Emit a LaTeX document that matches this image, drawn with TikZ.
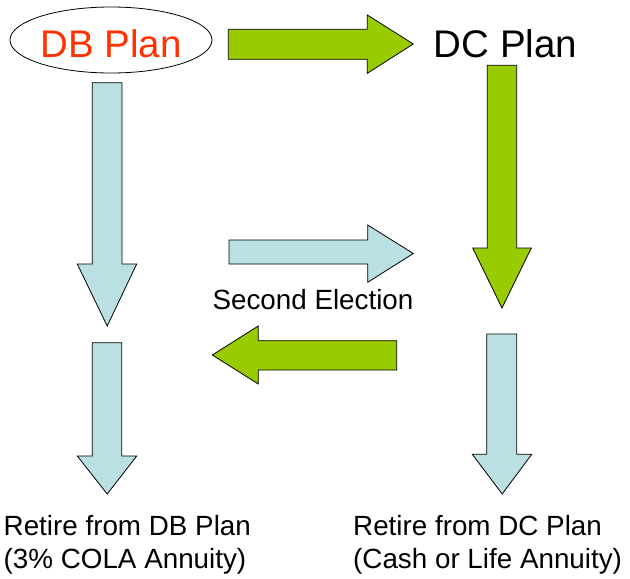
\documentclass[tikz,border=0pt]{standalone}
\usepackage{fontspec}
\setmainfont{Liberation Sans}
\usetikzlibrary{shapes.geometric}
\definecolor{arrowgreen}{HTML}{99CC00}
\definecolor{arrowblue}{HTML}{BBE0E3}
\definecolor{dbred}{HTML}{FF3300}
\tikzset{
  blockarrow/.style={draw=black, line width=0.8pt, line join=miter},
  greenarrow/.style={blockarrow, fill=arrowgreen},
  bluearrow/.style={blockarrow, fill=arrowblue},
  bigtext/.style={inner sep=0pt, font=\fontsize{38.5}{44}\selectfont},
  smalltext/.style={inner sep=0pt, font=\fontsize{27.8}{33}\selectfont},
}
\begin{document}
\begin{tikzpicture}[x=1pt,y=-1pt]
\useasboundingbox (0,0) rectangle (630,579);
% nodes
\node[draw=black, line width=0.8pt, ellipse, minimum width=202pt, minimum height=66pt,
      inner sep=0pt, text=dbred, font=\fontsize{38.5}{44}\selectfont,
      text height=34.6pt, text depth=0pt] (db) at (111,40) {DB Plan};
\node[bigtext, anchor=base] (dc) at (505.5,57) {DC Plan};
\node[smalltext, anchor=base] (second) at (313,309) {Second Election};
\node[smalltext, anchor=base west, align=left] (retdb) at (3.5,568) {Retire from DB Plan\\(3\% COLA Annuity)};
\node[smalltext, anchor=base west, align=left] (retdc) at (353,568) {Retire from DC Plan\\(Cash or Life Annuity)};
% top green right arrow (DB -> DC)
\draw[greenarrow] (228.3,29.3) -- (367.3,29.3) -- (367.3,15) -- (413.3,44) -- (367.3,73.3) -- (367.3,59.3) -- (228.3,59.3) -- cycle;
% right green down arrow
\draw[greenarrow] (487.3,65.3) -- (516.7,65.3) -- (516.7,248) -- (531.3,248) -- (502,308) -- (472.7,248) -- (487.3,248) -- cycle;
% left blue down arrow
\draw[bluearrow] (92.3,82.7) -- (122,82.7) -- (122,264) -- (136.7,264) -- (107.2,326) -- (77.3,264) -- (92.3,264) -- cycle;
% middle blue right arrow
\draw[bluearrow] (229,240) -- (367.7,240) -- (367.7,225) -- (413.3,253.5) -- (367.7,282.3) -- (367.7,264) -- (229,264) -- cycle;
% green left arrow
\draw[greenarrow] (396.7,340.7) -- (258.3,340.7) -- (258.3,326) -- (212.3,355) -- (258.3,384) -- (258.3,370) -- (396.7,370) -- cycle;
% bottom left blue down arrow
\draw[bluearrow] (92.3,342.7) -- (121.7,342.7) -- (121.7,456) -- (136.7,456) -- (107.2,494) -- (77.3,456) -- (92.3,456) -- cycle;
% bottom right blue down arrow
\draw[bluearrow] (486.7,334) -- (516.7,334) -- (516.7,454.3) -- (531.7,454.3) -- (502.2,494) -- (472.3,454.3) -- (486.7,454.3) -- cycle;
\end{tikzpicture}
\end{document}
